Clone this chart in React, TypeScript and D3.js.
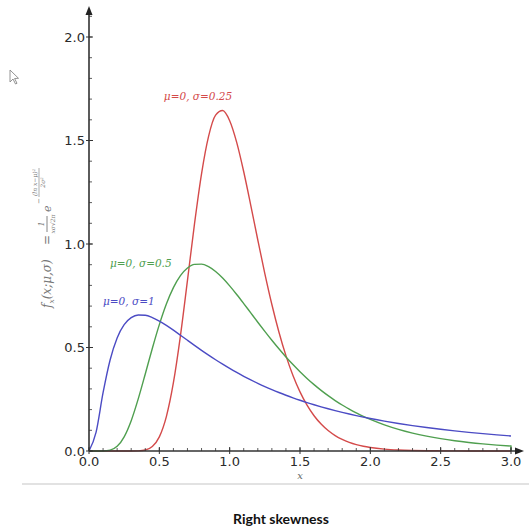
import React from "react";
import * as d3 from "d3";

// Sample positions along x shared by the three curves
const xs = [
  0, 0.05, 0.1, 0.15, 0.2, 0.25, 0.3, 0.35, 0.4, 0.45, 0.5, 0.55, 0.6, 0.65, 0.7, 0.75,
  0.8, 0.85, 0.9, 0.95, 1.0, 1.05, 1.1, 1.15, 1.2, 1.25, 1.3, 1.35, 1.4, 1.45, 1.5,
  1.55, 1.6, 1.65, 1.7, 1.75, 1.8, 1.85, 1.9, 1.95, 2.0, 2.1, 2.2, 2.3, 2.4, 2.5,
  2.6, 2.7, 2.8, 2.9, 3.0,
];

// Density values for mu = 0, sigma = 0.25
const sigma025 = [
  0, 0, 0, 0, 0, 0, 0.0, 0.0007, 0.0048, 0.0216, 0.0684, 0.1663, 0.3298, 0.5563, 0.8239, 1.0974,
  1.3393, 1.5198, 1.6224, 1.6448, 1.5958, 1.4911, 1.349, 1.1869, 1.0193, 0.8572, 0.7078, 0.5751, 0.4608, 0.3647, 0.2855,
  0.2215, 0.1704, 0.1301, 0.0987, 0.0744, 0.0559, 0.0418, 0.0311, 0.0231, 0.0171, 0.0093, 0.005, 0.0027, 0.0014, 0.0008,
  0.0004, 0.0002, 0.0001, 0.0, 0.0,
];

// Density values for mu = 0, sigma = 0.5
const sigma05 = [
  0, 0.0, 0.0002, 0.004, 0.0225, 0.0684, 0.1465, 0.2516, 0.3721, 0.4953, 0.6104, 0.7098, 0.7891, 0.8469, 0.8838, 0.9016,
  0.9028, 0.8904, 0.8671, 0.8355, 0.7979, 0.7563, 0.7123, 0.6672, 0.6221, 0.5778, 0.5348, 0.4936, 0.4544, 0.4175, 0.3829,
  0.3506, 0.3206, 0.2928, 0.2672, 0.2437, 0.2221, 0.2023, 0.1842, 0.1677, 0.1526, 0.1264, 0.1046, 0.0866, 0.0718, 0.0595,
  0.0494, 0.0411, 0.0342, 0.0285, 0.0238,
];

// Density values for mu = 0, sigma = 1
const sigma1 = [
  0, 0.0898, 0.2815, 0.4398, 0.5463, 0.6104, 0.6442, 0.657, 0.6555, 0.6445, 0.6275, 0.6066, 0.5836, 0.5594, 0.5348, 0.5104,
  0.4864, 0.4632, 0.4408, 0.4194, 0.3989, 0.3795, 0.361, 0.3435, 0.327, 0.3113, 0.2965, 0.2825, 0.2693, 0.2568, 0.245,
  0.2338, 0.2233, 0.2133, 0.2039, 0.1949, 0.1865, 0.1785, 0.1709, 0.1637, 0.1569, 0.1443, 0.1329, 0.1226, 0.1133, 0.1049,
  0.0972, 0.0902, 0.0839, 0.078, 0.0727,
];

const seriesNames = ["μ=0, σ=0.25", "μ=0, σ=0.5", "μ=0, σ=1"];
const xTickValues = [0, 0.5, 1.0, 1.5, 2.0, 2.5, 3.0];
const yTickValues = [0, 0.5, 1.0, 1.5, 2.0];
const chartTitle = "Right skewness";

const W = 529;
const H = 528;

export default function App() {
  const x = d3.scaleLinear().domain([0, 3]).range([89, 511]);
  const y = d3.scaleLinear().domain([0, 2]).range([451, 37]);

  const line = d3
    .line<number>()
    .x((_, i) => x(xs[i]))
    .y((v) => y(v))
    .curve(d3.curveMonotoneX);

  const series = [
    { name: seriesNames[0], values: sigma025, color: "#d44a4a", lx: 198, ly: 100, anchor: "middle", drop: false },
    { name: seriesNames[1], values: sigma05, color: "#4f9f4f", lx: 110, ly: 267, anchor: "start", drop: true },
    { name: seriesNames[2], values: sigma1, color: "#4b4bc4", lx: 103, ly: 305, anchor: "start", drop: false },
  ];

  const minorX = d3.range(0, 3.0001, 0.1);
  const minorY = d3.range(0, 2.1501, 0.1);

  const tickFont = "'DejaVu Sans', sans-serif";
  const mathFont = "'DejaVu Serif', serif";

  return (
    <svg
      width={W}
      height={H}
      style={{ position: "absolute", left: 0, top: 0, background: "#fff" }}
    >
      {/* pointer glyph in the corner */}
      <path
        d="M10,70 L10,82 L13,79 L15.5,84 L17,83.3 L14.6,78.5 L18.5,78.3 Z"
        fill="#fff"
        stroke="#888"
        strokeWidth={0.9}
      />

      {/* curves */}
      {series.map((s) => {
        let d = line(s.values) || "";
        if (s.drop) d += `L${x(xs[xs.length - 1])},${y(0)}`;
        return (
          <path key={s.name} d={d} fill="none" stroke={s.color} strokeWidth={1.4} />
        );
      })}

      {/* axes */}
      <g stroke="#333" fill="none">
        <line x1={x(0)} y1={y(0)} x2={518} y2={y(0)} strokeWidth={1.6} />
        <line x1={x(0)} y1={y(0)} x2={x(0)} y2={12} strokeWidth={1.6} />
        {minorX.map((v) => (
          <line key={"mx" + v} x1={x(v)} x2={x(v)} y1={y(0)} y2={y(0) - 3} strokeWidth={0.8} />
        ))}
        {xTickValues.map((v) => (
          <line key={"tx" + v} x1={x(v)} x2={x(v)} y1={y(0) - 4} y2={y(0) + 3} strokeWidth={1} />
        ))}
        {minorY.map((v) => (
          <line key={"my" + v} x1={x(0)} x2={x(0) + 3} y1={y(v)} y2={y(v)} strokeWidth={0.8} />
        ))}
        {yTickValues.map((v) => (
          <line key={"ty" + v} x1={x(0) - 3} x2={x(0) + 4} y1={y(v)} y2={y(v)} strokeWidth={1} />
        ))}
      </g>
      {/* arrow heads */}
      <path d={`M${524},${y(0)} L${515},${y(0) - 3.5} L${515},${y(0) + 3.5} Z`} fill="#222" />
      <path d={`M${x(0)},${6} L${x(0) - 3.5},${15} L${x(0) + 3.5},${15} Z`} fill="#222" />

      {/* tick labels */}
      <g fontFamily={tickFont} fontSize={13} fill="#2a2a2a">
        {xTickValues.map((v) => (
          <text key={"lx" + v} x={x(v)} y={y(0) + 15} textAnchor="middle">
            {d3.format(".1f")(v)}
          </text>
        ))}
        {yTickValues.map((v) => (
          <text key={"ly" + v} x={x(0) - 4} y={y(v) + 4.5} textAnchor="end">
            {d3.format(".1f")(v)}
          </text>
        ))}
      </g>

      {/* axis labels */}
      <text
        x={x(1.5)}
        y={479}
        fontFamily={mathFont}
        fontStyle="italic"
        fontSize={10}
        fill="#666"
        textAnchor="middle"
      >
        x
      </text>
      <g
        transform="translate(51,308) rotate(-90)"
        fontFamily={mathFont}
        fontStyle="italic"
        fill="#777"
      >
        <text x={0} y={0} fontSize={12}>
          f
          <tspan fontSize={7.5} dy={3}>x</tspan>
          <tspan fontSize={12} dy={-3}>(x;μ,σ)</tspan>
        </text>
        <text x={63} y={0} fontSize={12} fontStyle="normal">=</text>
        <line x1={76} x2={92} y1={-4} y2={-4} stroke="#777" strokeWidth={0.9} />
        <text x={84} y={-7} fontSize={8} textAnchor="middle">1</text>
        <text x={84} y={3.5} fontSize={6} textAnchor="middle">xσ√2π</text>
        <text x={96} y={0} fontSize={11}>e</text>
        <text x={104} y={-10} fontSize={7}>−</text>
        <line x1={111} x2={140} y1={-12} y2={-12} stroke="#777" strokeWidth={0.6} />
        <text x={125.5} y={-14.5} fontSize={6} textAnchor="middle">(ln x−μ)²</text>
        <text x={125.5} y={-6} fontSize={6} textAnchor="middle">2σ²</text>
      </g>

      {/* series labels */}
      {series.map((s) => (
        <text
          key={"n" + s.name}
          x={s.lx}
          y={s.ly}
          fontFamily={mathFont}
          fontStyle="italic"
          fontSize={10.5}
          fill={s.color}
          textAnchor={s.anchor as any}
        >
          {s.name}
        </text>
      ))}

      {/* separator and caption */}
      <line x1={22} x2={W} y1={484} y2={484} stroke="#e2e2e2" strokeWidth={2} />
      <text
        x={281}
        y={524}
        fontFamily="Lato, 'Open Sans', sans-serif"
        fontWeight="bold"
        fontSize={14}
        fill="#111"
        textAnchor="middle"
      >
        {chartTitle}
      </text>
    </svg>
  );
}
